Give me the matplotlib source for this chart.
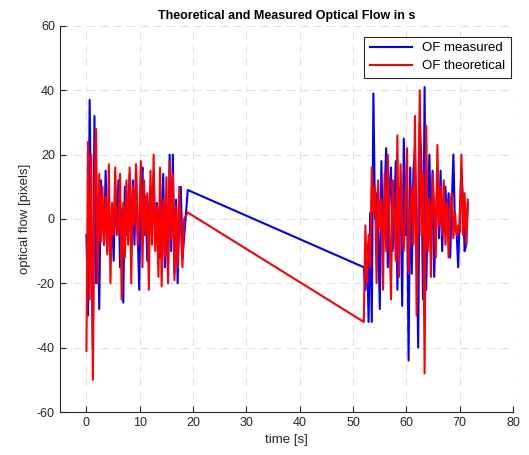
import numpy as np
import matplotlib
matplotlib.use('Agg')
import matplotlib.pyplot as plt

plt.rcParams['font.family'] = ['Liberation Sans', 'DejaVu Sans']
plt.rcParams['axes.unicode_minus'] = False

# time stamps [s]; the gap between 19 s and 52 s has no samples
t = [0.0, 0.3, 0.6, 0.9, 1.2, 1.5, 1.8, 2.1, 2.4, 2.7, 3.0, 3.3, 3.6, 3.9,
     4.2, 4.5, 4.8, 5.1, 5.4, 5.7, 6.0, 6.3, 6.6, 6.9, 7.2, 7.5, 7.8, 8.1,
     8.4, 8.7, 9.0, 9.3, 9.6, 9.9, 10.2, 10.5, 10.8, 11.1, 11.4, 11.7, 12.0,
     12.3, 12.6, 12.9, 13.2, 13.5, 13.8, 14.1, 14.4, 14.7, 15.0, 15.3, 15.6,
     15.9, 16.2, 16.5, 16.8, 17.1, 17.4, 17.7, 18.0, 18.3, 19.0,
     52.0, 52.3, 52.6, 52.9, 53.2, 53.5, 53.8, 54.1, 54.4, 54.7, 55.0, 55.3,
     55.6, 55.9, 56.2, 56.5, 56.8, 57.1, 57.4, 57.7, 58.0, 58.3, 58.6, 58.9,
     59.2, 59.5, 59.8, 60.1, 60.4, 60.7, 61.0, 61.3, 61.6, 61.9, 62.2, 62.5,
     62.8, 63.1, 63.4, 63.7, 64.0, 64.3, 64.6, 64.9, 65.2, 65.5, 65.8, 66.1,
     66.4, 66.7, 67.0, 67.3, 67.6, 67.9, 68.2, 68.5, 68.8, 69.1, 69.4, 69.7,
     70.0, 70.3, 70.6, 70.9, 71.2, 71.5]

of_measured = [-5, -30, 37, -5, -40, 32, -20, 5, -28, 12, 3, -8, 15, -10,
               5, -7, 2, -13, 8, -3, 12, -15, 3, -26, 10, -5, 0, 14,
               -10, 12, -8, 15, -4, -22, 10, 16, -5, 7, -13, 3, 10,
               -3, 14, -7, 5, 0, -12, 2, 14, -15, 4, -18, 20,
               -10, 20, -17, 6, -20, 0, 10, -12, -6, 9,
               -15, -22, -8, -32, 2, -32, 39, 0, 8, -5, -28, 18,
               -10, 8, 22, -15, 8, 16, -10, 0, 18, -22, 5, 10,
               -27, 25, -5, 10, -44, 16, -17, 15, 22, -5, -40, 30,
               18, -25, 41, -22, 5, 20, -8, 15, -18, 0, 12, -6,
               15, -10, 6, 10, -2, 8, -12, 5, 20, -3, -4, -15,
               2, 15, 6, -10, -8, 5]

of_theoretical = [-41, 24, -25, 20, -50, 10, 28, -20, 14, -7, 10, -8, 7, -11,
                  17, -20, 5, -5, 16, -5, -3, 14, -25, 5, -12, 12, -8, 16,
                  -20, 10, -2, 17, -8, 0, 18, -15, 12, -5, 8, -22, 15,
                  -8, 20, -10, 4, -18, 16, -21, 6, -12, 13, -20, 18,
                  -6, 14, -19, 4, -15, 10, -3, -15, 0, 2,
                  -32, -2, -20, -5, -15, 16, 2, 10, -20, 12, -3, 6,
                  -22, 14, -10, 20, -3, -25, 12, 2, -13, 26, -18, 17,
                  -3, -10, 6, 22, -17, 2, 10, -8, 32, -30, 2, 40,
                  -5, 14, -48, 29, -10, 6, -18, 14, 4, -12, 23, -2,
                  10, -5, 12, -8, 5, -12, 4, 8, -6, 2, -5, -2,
                  -4, 20, -5, 8, -8, 6]

fig = plt.figure(figsize=(5.29, 4.55), dpi=100)
ax = fig.add_axes([0.113, 0.0945, 0.857, 0.8485])

ax.plot(t, of_measured, color='#0000ff', lw=1.5, label='OF measured')
ax.plot(t, of_theoretical, color='#ff0000', lw=1.5, label='OF theoretical')

ax.set_xlim(-5, 80)
ax.set_ylim(-60, 60)
ax.set_xticks(np.arange(0, 81, 10))
ax.set_yticks(np.arange(-60, 61, 20))
ax.grid(True, color='#e0e0e0', linestyle=(0, (7, 5)), linewidth=0.8)
ax.set_axisbelow(True)
for s in ['top', 'right']:
    ax.spines[s].set_visible(False)
for s in ['left', 'bottom']:
    ax.spines[s].set_color('#262626')
    ax.spines[s].set_linewidth(0.8)
ax.tick_params(direction='in', colors='#262626', labelsize=9, length=4)

ax.set_title('Theoretical and Measured Optical Flow in s', fontsize=9,
             fontweight='bold', pad=5)
ax.set_xlabel('time [s]', fontsize=9.5, color='#262626')
ax.set_ylabel('optical flow [pixels]', fontsize=9.5, color='#262626')

leg = ax.legend(loc='upper right', bbox_to_anchor=(0.995, 0.972),
                borderaxespad=0, fontsize=9.5, fancybox=False,
                framealpha=1, edgecolor='#262626', handlelength=3.2,
                labelspacing=0.45)
leg.get_frame().set_linewidth(0.8)

fig.savefig('out.png', dpi=100)
